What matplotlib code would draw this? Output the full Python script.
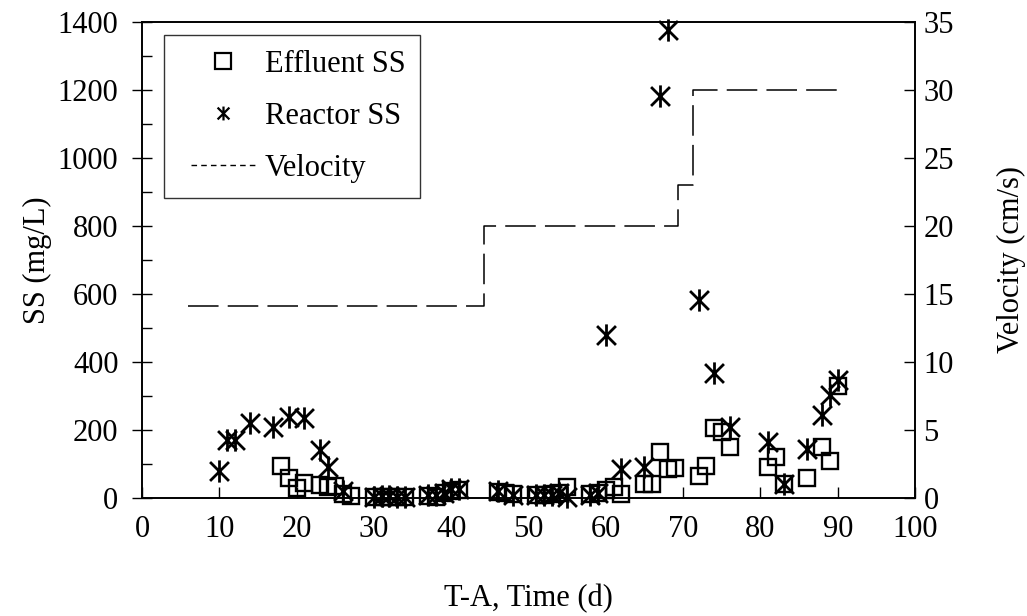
import matplotlib
matplotlib.use("Agg")
import matplotlib.pyplot as plt
from matplotlib.path import Path
from matplotlib.lines import Line2D
from matplotlib.legend_handler import HandlerLine2D
from matplotlib.ticker import MultipleLocator

plt.rcParams['font.family'] = ['Liberation Serif', 'DejaVu Serif']
FS = 22

# effluent suspended solids (mg/L) by day
eff_day = [18, 19, 20, 21, 23, 24, 25, 26, 27,
           30, 31, 32, 33, 34,
           37, 38, 39, 40, 41,
           46, 47, 48,
           51, 52, 53, 54, 55,
           58, 59, 60, 61, 62,
           65, 66, 67, 68, 69,
           72, 73, 74, 75, 76,
           81, 82, 83,
           86, 88, 89, 90]
eff_ss = [95, 60, 28, 43, 38, 32, 34, 12, 5,
          2, 3, 2, 3, 2,
          5, 3, 15, 20, 22,
          18, 15, 12,
          10, 10, 12, 15, 33,
          12, 15, 24, 33, 12,
          40, 40, 135, 85, 88,
          65, 95, 205, 195, 150,
          90, 120, 40,
          60, 150, 110, 330]

# reactor suspended solids (mg/L) by day
rea_day = [10, 11, 12, 14, 17, 19, 21, 23, 24, 26,
           30, 31, 32, 33, 34, 37, 38, 39, 40, 41,
           46, 48, 51, 52, 53, 54, 55, 58, 59,
           60, 62, 65, 67, 68, 72, 74, 76,
           81, 83, 86, 88, 89, 90]
rea_ss = [80, 170, 170, 220, 210, 237, 234, 141, 90, 20,
          3, 5, 5, 3, 3, 10, 10, 15, 25, 25,
          20, 10, 10, 10, 10, 15, 2, 10, 15,
          480, 85, 90, 1182, 1377, 582, 369, 208,
          166, 42, 145, 244, 303, 347]

# superficial velocity (cm/s), stepwise
vel_day = [6, 44.3, 69.3, 71.3, 90]
vel = [14.1, 20, 23, 30, 30]

# six-spoke asterisk marker
star = Path([(0, -1), (0, 1), (-0.85, -0.85), (0.85, 0.85), (-0.85, 0.85), (0.85, -0.85)],
            [Path.MOVETO, Path.LINETO, Path.MOVETO, Path.LINETO, Path.MOVETO, Path.LINETO])

fig = plt.figure(figsize=(10.27, 6.16), dpi=100)
ax = fig.add_axes([0.1383, 0.1916, 0.7527, 0.7727])
ax2 = ax.twinx()

ax.plot(eff_day, eff_ss, linestyle='none', marker='s', markersize=11,
        markerfacecolor='none', markeredgecolor='black', markeredgewidth=1.7,
        clip_on=False)
ax.plot(rea_day, rea_ss, linestyle='none', marker=star, markersize=16,
        markeredgecolor='black', markeredgewidth=2.0, clip_on=False)
ax2.plot(vel_day, vel, drawstyle='steps-post', color='black', linewidth=1.1,
         linestyle=(0, (20, 6)))

ax.set_xlim(0, 100)
ax.set_ylim(0, 1400)
ax2.set_ylim(0, 35)

ax.xaxis.set_major_locator(MultipleLocator(10))
ax.yaxis.set_major_locator(MultipleLocator(200))
ax.yaxis.set_minor_locator(MultipleLocator(100))
ax2.yaxis.set_major_locator(MultipleLocator(5))

ax.tick_params(axis='x', direction='in', length=8, width=1, labelsize=FS, pad=12)
ax.tick_params(axis='y', which='major', direction='inout', length=14, width=1,
               labelsize=FS, pad=10)
ax.tick_params(axis='y', which='minor', direction='in', length=7, width=1)
ax2.tick_params(axis='y', direction='in', length=8, width=1, labelsize=FS, pad=6)

for a in (ax, ax2):
    for s in a.spines.values():
        s.set_linewidth(1.2)

ax.set_xlabel('T-A, Time (d)', fontsize=FS, labelpad=29)
ax.set_ylabel('SS (mg/L)', fontsize=FS, labelpad=4)
ax2.set_ylabel('Velocity (cm/s)', fontsize=FS, labelpad=31)

# legend keys drawn a bit differently from the plotted marks
key_eff = Line2D([], [], linestyle='none', marker='s', markersize=12,
                 markerfacecolor='none', markeredgecolor='black', markeredgewidth=1.6)
key_rea = Line2D([], [], linestyle='none', marker=star, markersize=10,
                 markeredgecolor='black', markeredgewidth=1.6)
key_vel = Line2D([], [], color='black', linewidth=1.0, linestyle=(0, (4, 3)))

leg = ax.legend([key_eff, key_rea, key_vel], ['Effluent SS', 'Reactor SS', 'Velocity'],
                loc='upper left', bbox_to_anchor=(0.028, 0.973),
                borderaxespad=0, fancybox=False, edgecolor='black', fontsize=FS,
                handlelength=2.5, labelspacing=0.75, borderpad=0.5, handletextpad=0.3,
                handler_map={Line2D: HandlerLine2D(xpad=0.4)})
leg.get_frame().set_linewidth(1.0)
leg.set_zorder(5)

fig.savefig('out.png', dpi=100)
